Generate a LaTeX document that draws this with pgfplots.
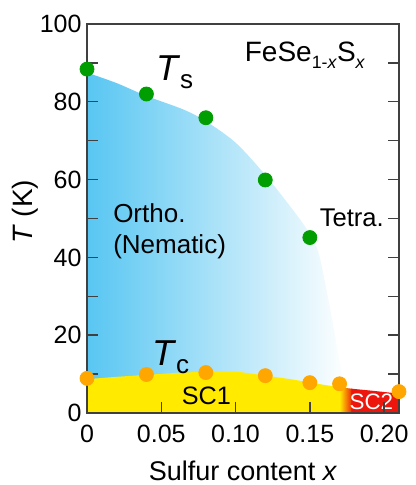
\documentclass[border=0pt]{standalone}
\usepackage{fontspec}
\setmainfont{Liberation Sans}
\usepackage{pgfplots}
\pgfplotsset{compat=1.18}

\definecolor{nemblue}{RGB}{88,198,242}
\definecolor{scyellow}{RGB}{255,234,0}
\definecolor{scred}{RGB}{236,22,12}
\definecolor{tsgreen}{RGB}{0,158,0}
\definecolor{tcorange}{RGB}{255,166,0}

\newcommand{\fs}[1]{\fontsize{#1}{#1}\selectfont}

\pgfplotsset{
  base/.style={width=156pt, height=194.5pt, scale only axis,
    xmin=0, xmax=0.21, ymin=0, ymax=100, clip=false},
}
\tikzset{lbl/.style={anchor=base west, inner sep=0pt}}

\begin{document}
\begin{tikzpicture}
\begin{axis}[
    base,
    axis on top,
    axis line style={black!75, line width=0.7pt},
    tick style={black!75, line width=0.7pt},
    tick align=inside,
    major tick length=5.5pt,
    minor tick length=5.5pt,
    xtick={0,0.05,0.1,0.15,0.2},
    xticklabels={0,0.05,0.10,0.15,0.20},
    xtick pos=left,
    ytick={0,20,40,60,80,100},
    minor ytick={10,30,50,70,90},
    ytick pos=both,
    ticklabel style={font=\fs{12.5}},
    /pgf/number format/assume math mode=true,
    xticklabel style={yshift=-2.5pt},
    yticklabel style={xshift=0.8pt},
    xlabel={Sulfur content \textit{x}},
    ylabel={\textit{T} (K)},
    xlabel style={at={(axis description cs:0.5,-0.148)}, anchor=center, inner sep=0pt, font=\fs{13.5}},
    ylabel style={at={(axis description cs:-0.199,0.517)}, anchor=center, inner sep=0pt, font=\fs{14}},
]
% nematic (orthorhombic) region
\addplot[draw=none, left color=nemblue, right color=white, smooth, tension=0.5] coordinates {
  (0,87.5) (0.02,84.8) (0.04,81.5) (0.065,78) (0.08,75)
  (0.10,69.5) (0.12,61.2) (0.14,51.5)
  (0.15,46) (0.156,41) (0.161,32) (0.166,22) (0.171,11) (0.174,4) (0.175,0)
} \closedcycle;
% SC1
\addplot[draw=none, fill=scyellow, smooth, tension=0.5] coordinates {
  (0,8.7) (0.02,9.3) (0.04,9.8) (0.06,10.3) (0.08,10.6) (0.10,10.6)
  (0.12,9.6) (0.14,8.5) (0.16,7.2) (0.171,6.6)
} \closedcycle;
% SC1 -> SC2 transition
\addplot[draw=none, left color=scyellow, right color=scred] coordinates {
  (0.170,6.65) (0.174,6.45) (0.179,6.2)
} \closedcycle;
% SC2
\addplot[draw=none, fill=scred] coordinates {
  (0.178,6.25) (0.19,5.8) (0.21,5.0)
} \closedcycle;

\node[lbl, font=\fs{14}] at (axis cs:0.106,90.3)
  {FeSe\raisebox{-3.3pt}{\fs{8.9}1-\textit{x}}S\raisebox{-3.3pt}{\fs{8.9}\textit{x}}};
\node[lbl, font=\fs{18}] at (axis cs:0.0462,85.6)
  {\textit{T}\raisebox{-4pt}{\fs{13}s}};
\node[lbl, font=\fs{18}] at (axis cs:0.0435,12.3)
  {\textit{T}\raisebox{-4pt}{\fs{13}c}};
\node[lbl, font=\fs{13}] at (axis cs:0.0174,48.9) {Ortho.};
\node[lbl, font=\fs{13}] at (axis cs:0.0174,40.9) {(Nematic)};
\node[lbl, font=\fs{12.8}] at (axis cs:0.1564,47.9) {Tetra.};
\node[lbl, font=\fs{12.6}] at (axis cs:0.0636,2.06) {SC1};
\node[lbl, font=\fs{11.2}, text=white] at (axis cs:0.1765,0.8) {SC2};
\end{axis}

\begin{axis}[base, hide axis]
\addplot[only marks, mark=*, mark size=3.5pt, color=tsgreen, mark options={draw=none, fill=tsgreen}] coordinates {
  (0,88.4) (0.04,82) (0.08,75.9) (0.12,59.9) (0.15,45.1)
};
\addplot[only marks, mark=*, mark size=3.5pt, color=tcorange, mark options={draw=none, fill=tcorange}] coordinates {
  (0,8.9) (0.04,9.9) (0.08,10.4) (0.12,9.6) (0.15,7.8) (0.17,7.5) (0.21,5.5)
};
\end{axis}

\path ([shift={(-43.5pt,-36pt)}]current axis.south west)
  rectangle ([shift={(6pt,12pt)}]current axis.north east);
\end{tikzpicture}
\end{document}
